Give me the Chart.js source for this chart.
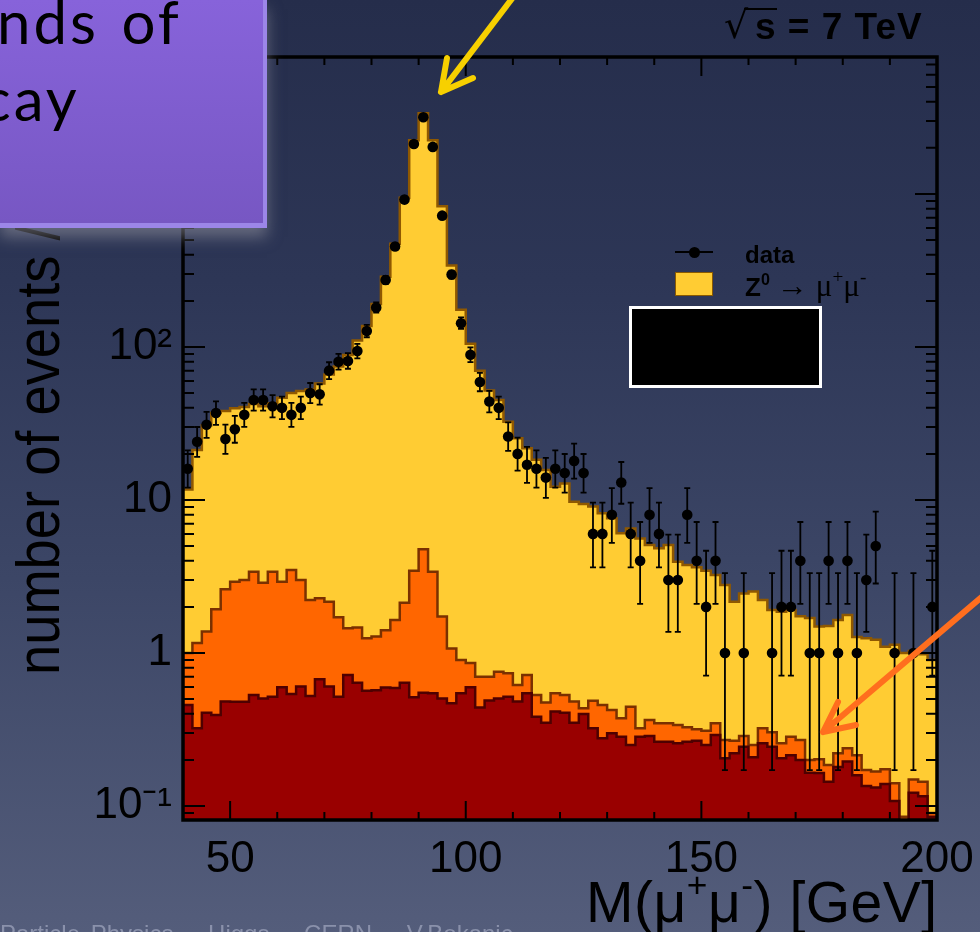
<!DOCTYPE html>
<html>
<head>
<meta charset="utf-8">
<script src="https://cdn.jsdelivr.net/npm/chart.js@4.4.0/dist/chart.umd.min.js"></script>
<style>
  html, body { margin: 0; padding: 0; }
  body {
    width: 980px; height: 932px; overflow: hidden; position: relative;
    background: linear-gradient(180deg, #252d4b 0%, #2d3656 30%, #3c4666 62%, #545d7b 100%);
    font-family: "Liberation Sans", Arial, sans-serif;
  }
  #chart { position: absolute; left: 0; top: 0; }
  .txt { position: absolute; white-space: nowrap; color: #000; line-height: 1; }
  sup { font-size: 0.62em; vertical-align: 0.7em; line-height: 0; }
  #ytitle { left: 8px; top: 675px; font-size: 61px; transform-origin: 0 0; transform: rotate(-90deg) scaleX(0.89); }
  #xtitle { left: 586px; top: 874px; font-size: 57px; letter-spacing: 0.5px; }
  #energy { left: 755px; top: 8px; font-size: 37px; font-weight: bold; letter-spacing: 1px; }
  #sqrt { left: 724px; top: 6px; font-size: 38px; font-family: "DejaVu Sans", sans-serif; font-weight: normal; }
  #sqrtbar { position: absolute; left: 744px; top: 8px; width: 33px; height: 2px; background: #000; }
  #legData { left: 745px; top: 243px; font-size: 24px; font-weight: bold; }
  #legZ { left: 745px; top: 270px; font-size: 26px; }
  #legZ .arrow { font-family: "Liberation Serif", serif; font-weight: normal; font-size: 31px; }
  #legLine { position: absolute; left: 675px; top: 251px; width: 38px; height: 2px; background: #000; }
  #legDot { position: absolute; left: 689px; top: 247px; width: 11px; height: 11px; border-radius: 50%; background: #000; }
  #legBox { position: absolute; left: 675px; top: 272px; width: 38px; height: 24px; box-sizing: border-box; background: #ffcc33; border: 1.5px solid #8a5a00; }
  #blackbox { position: absolute; left: 629px; top: 306px; width: 193px; height: 82px; box-sizing: border-box; background: #000; border: 3px solid #fff; }
  #purple {
    position: absolute; left: 0; top: 0; width: 267px; height: 228px; box-sizing: border-box; overflow: hidden;
    background: linear-gradient(180deg, #8763da 0%, #7757c3 100%);
    border-right: 4px solid #9c86e8; border-bottom: 5px solid #9c86e8;
    box-shadow: 0 9px 14px rgba(150, 150, 160, 0.55);
  }
  #purple .line { position: absolute; font-family: Lato, "Open Sans", sans-serif; font-size: 60px; color: #000; white-space: nowrap; line-height: 1; letter-spacing: 3px; word-spacing: 4px; }
  #footer { left: 0; top: 922px; font-size: 24px; color: #8a91ab; word-spacing: 4px; }
  #arrows { position: absolute; left: 0; top: 0; }
</style>
</head>
<body>
<canvas id="chart" width="980" height="932"></canvas>

<div class="txt" id="ytitle">number of events / 2 GeV</div>
<div class="txt" id="xtitle">M(μ<sup>+</sup>μ<sup>-</sup>) [GeV]</div>
<div class="txt" id="sqrt">√</div>
<div id="sqrtbar"></div>
<div class="txt" id="energy">s = 7 TeV</div>

<div id="legLine"></div>
<div id="legDot"></div>
<div class="txt" id="legData">data</div>
<div id="legBox"></div>
<div class="txt" id="legZ"><b>Z<sup>0</sup></b> <span class="arrow">→ μ<sup>+</sup>μ<sup>-</sup></span></div>
<div id="blackbox"></div>

<div class="txt" id="footer">Particle Physics – Higgs – CERN – V.Bokanic</div>

<div id="purple">
  <div class="line" style="left:-3px; top:-9px;">nds of</div>
  <div class="line" style="left:-18px; top:68px;">cay</div>
</div>

<svg id="arrows" width="980" height="932">
  <g fill="none" stroke-linecap="round" stroke-linejoin="round" stroke-width="6">
    <path d="M514 -4 L441 92 M447 58 L441 92 L473 78" stroke="#f7d000"/>
    <path d="M990 590 L823 732 M838 702 L823 732 L856 725" stroke="#ff6e1e"/>
  </g>
</svg>

<script>
// bin low edges in GeV (2 GeV bins)
const binLow = [40,42,44,46,48,50,52,54,56,58,60,62,64,66,68,70,72,74,76,78,
                80,82,84,86,88,90,92,94,96,98,100,102,104,106,108,110,112,114,116,118,
                120,122,124,126,128,130,132,134,136,138,140,142,144,146,148,150,152,154,156,158,
                160,162,164,166,168,170,172,174,176,178,180,182,184,186,188,190,192,194,196,198];

// observed events per bin (0 = no point drawn)
const dataCounts = [16,24,31,37,25,29,36,45,45,41,40,36,40,50,49,70,80,81,94,127,
                    181,274,453,918,2120,3170,2030,721,297,143,89,59,44,40,26,20,17,16,14,16,
                    15,18,15,6,6,8,13,6,4,8,6,3,3,8,4,2,4,1,0,1,
                    0,0,1,2,2,4,1,1,4,1,4,1,3,5,0,1,0,1,0,2];

// stacked expectation, top of each layer (cumulative)
const stackZmumu = [11.7,21.2,30.8,37,38.2,39.8,40.5,42.4,41,42.9,46.5,50,51.6,52.7,57.8,66,74.5,88.6,110,137,
                    191,288,472,945,2240,3370,2240,830,340,175,105,70,52,45,32.5,25.3,21.8,18.3,15.7,12.2,
                    12.8,9.75,9.4,9.05,8.2,7.6,6.06,6.5,5.6,5.08,4.84,5.08,3.95,3.76,3.63,3.45,3.23,2.78,2.16,2.45,
                    2.52,2.22,1.91,1.86,1.91,1.74,1.69,1.49,1.5,1.64,1.77,1.27,1.25,1.22,1.1,1.13,1.0,1.03,0.98,0.9];

const stackOrange = [1.0,1.16,1.38,1.93,2.61,2.92,3.0,3.4,2.88,3.4,2.92,3.49,3.0,2.22,2.28,2.16,1.71,1.45,1.47,1.25,
                     1.28,1.41,1.64,2.13,3.45,4.76,3.4,1.73,1.07,0.9,0.86,0.70,0.70,0.755,0.737,0.618,0.718,0.531,0.474,0.545,
                     0.531,0.481,0.435,0.488,0.457,0.424,0.374,0.446,0.322,0.365,0.347,0.347,0.338,0.327,0.317,0.31,0.347,0.27,0.267,0.287,
                     0.25,0.322,0.303,0.257,0.284,0.27,0.2,0.202,0.185,0.221,0.238,0.215,0.172,0.168,0.174,0.141,0.085,0.149,0.144,0.09];

const stackRed = [0.457,0.322,0.407,0.393,0.481,0.48,0.48,0.531,0.505,0.518,0.597,0.54,0.603,0.524,0.673,0.603,0.518,0.718,0.64,0.567,
                  0.57,0.594,0.59,0.64,0.513,0.55,0.545,0.505,0.469,0.545,0.597,0.441,0.49,0.505,0.518,0.481,0.545,0.383,0.35,0.414,
                  0.407,0.35,0.399,0.322,0.277,0.299,0.284,0.25,0.284,0.287,0.263,0.263,0.257,0.263,0.267,0.25,0.291,0.205,0.221,0.244,
                  0.208,0.257,0.244,0.205,0.215,0.2,0.165,0.164,0.144,0.18,0.195,0.159,0.135,0.132,0.139,0.108,0.08,0.122,0.116,0.085];

const xTickValues = [50, 100, 150, 200];
const yTickValues = [0.1, 1, 10, 100, 1000];
const yTickLabels = ['10⁻¹', '1', '10', '10²', '10³'];

const binStep = binLow[1] - binLow[0];
const xMin = binLow[0];
const xMax = binLow[binLow.length - 1] + binStep;

function histPoints(values) {
    const pts = values.map((v, i) => ({ x: binLow[i], y: v }));
    pts.push({ x: xMax, y: values[values.length - 1] });
    return pts;
}

const dataPoints = dataCounts.map((n, i) => ({ x: binLow[i] + binStep / 2, y: n > 0 ? n : null }));

// Poisson 1 sigma interval (Gehrels approximation)
function poissonUp(n) { return n + Math.sqrt(n + 0.75) + 1; }
function poissonLo(n) { return n * Math.pow(1 - 1 / (9 * n) - 1 / (3 * Math.sqrt(n)), 3); }

const rootFrame = {
    id: 'rootFrame',
    beforeDatasetDraw(chart, args) {
        if (args.index !== 0) return;
        const ctx = chart.ctx, xs = chart.scales.x, ys = chart.scales.y, a = chart.chartArea;
        ctx.save();
        ctx.beginPath();
        ctx.rect(a.left, a.top, a.right - a.left, a.bottom - a.top);
        ctx.clip();
        ctx.strokeStyle = '#000';
        ctx.lineWidth = 1.8;
        dataCounts.forEach((n, i) => {
            if (n <= 0) return;
            const px = xs.getPixelForValue(binLow[i] + binStep / 2);
            const yTop = ys.getPixelForValue(poissonUp(n));
            const yBot = ys.getPixelForValue(Math.max(poissonLo(n), 0.01));
            ctx.beginPath();
            ctx.moveTo(px, yTop); ctx.lineTo(px, yBot);
            ctx.moveTo(px - 3, yTop); ctx.lineTo(px + 3, yTop);
            ctx.moveTo(px - 3, yBot); ctx.lineTo(px + 3, yBot);
            ctx.stroke();
        });
        ctx.restore();
    },
    afterDatasetsDraw(chart) {
        const ctx = chart.ctx, xs = chart.scales.x, ys = chart.scales.y, a = chart.chartArea;
        ctx.save();
        ctx.strokeStyle = '#000';
        ctx.lineWidth = 2;
        ctx.beginPath();
        // x ticks every 10 GeV, major at labelled values
        for (let v = xMin + 10; v < xMax; v += 10) {
            const px = xs.getPixelForValue(v);
            const len = xTickValues.includes(v) ? 19 : 8;
            ctx.moveTo(px, a.bottom); ctx.lineTo(px, a.bottom - len);
            ctx.moveTo(px, a.top); ctx.lineTo(px, a.top + len);
        }
        // y ticks: decades and 2..9 minors
        for (let e = -2; e <= 4; e++) {
            for (let k = 1; k <= 9; k++) {
                const v = k * Math.pow(10, e);
                if (v < ys.min || v > ys.max) continue;
                const py = ys.getPixelForValue(v);
                const len = k === 1 ? 22 : 11;
                ctx.moveTo(a.left, py); ctx.lineTo(a.left + len, py);
                ctx.moveTo(a.right, py); ctx.lineTo(a.right - len, py);
            }
        }
        ctx.stroke();
        ctx.lineWidth = 3.5;
        ctx.strokeRect(a.left, a.top, a.right - a.left, a.bottom - a.top);
        ctx.restore();
    }
};

const histStyle = (fillColor, lineColor) => ({
    type: 'line', stepped: 'before', fill: 'start', pointRadius: 0,
    backgroundColor: fillColor, borderColor: lineColor, borderWidth: 2.5
});

const ctx = document.getElementById('chart').getContext('2d');
new Chart(ctx, {
    type: 'line',
    data: {
        datasets: [
            {
                label: 'data', data: dataPoints, showLine: false,
                pointRadius: 5.3, pointBorderWidth: 0, pointBackgroundColor: '#000', borderColor: '#000'
            },
            Object.assign({ label: 'bkg 2', data: histPoints(stackRed) }, histStyle('#990000', '#4e0000')),
            Object.assign({ label: 'bkg 1', data: histPoints(stackOrange) }, histStyle('#ff6600', '#7a3000')),
            Object.assign({ label: 'Z0 -> mu mu', data: histPoints(stackZmumu) }, histStyle('#ffcc33', '#8f5800'))
        ]
    },
    options: {
        responsive: false,
        animation: false,
        devicePixelRatio: 1,
        layout: { padding: { top: 57, right: 43, left: 0, bottom: 0 } },
        plugins: { legend: { display: false }, tooltip: { enabled: false } },
        scales: {
            x: {
                type: 'linear', min: xMin, max: xMax,
                grid: { display: false }, border: { display: false },
                afterBuildTicks: s => { s.ticks = xTickValues.map(v => ({ value: v })); },
                afterFit: s => { s.height = 112; },
                ticks: {
                    autoSkip: false, maxRotation: 0, padding: 5, color: '#000',
                    font: { family: '"Liberation Sans", Arial, sans-serif', size: 44 }
                }
            },
            y: {
                type: 'logarithmic', min: 0.081, max: 7850,
                grid: { display: false, drawTicks: false }, border: { display: false },
                afterBuildTicks: s => { s.ticks = yTickValues.map(v => ({ value: v })); },
                afterFit: s => { s.width = 183; },
                ticks: {
                    autoSkip: false, padding: 11, color: '#000',
                    font: { family: '"Liberation Sans", Arial, sans-serif', size: 44 },
                    callback: v => { const i = yTickValues.indexOf(v); return i >= 0 ? yTickLabels[i] : ''; }
                }
            }
        }
    },
    plugins: [rootFrame]
});
</script>
</body>
</html>
